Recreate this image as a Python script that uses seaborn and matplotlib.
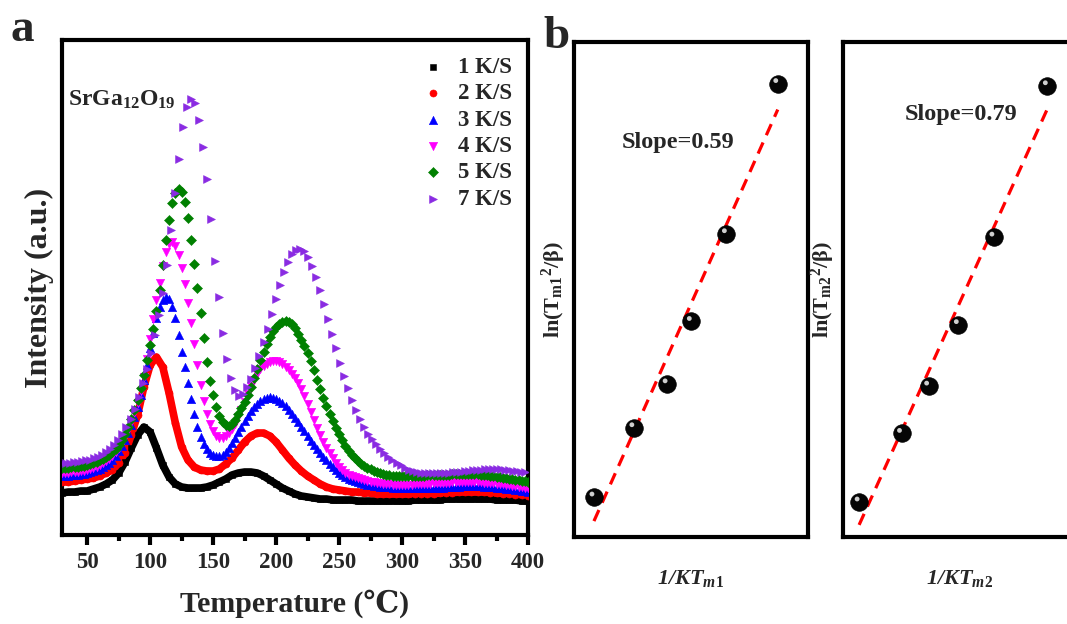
import numpy as np
import matplotlib
matplotlib.use("Agg")
import matplotlib.pyplot as plt
import matplotlib.transforms as mtransforms
import seaborn as sns

# ---------------- Panel a : TL glow curves (intensity, a.u.) ----------------
# 1 K/S and 2 K/S sampled every 5 degC starting at 30 degC
int_1ks = [42, 43, 43, 44, 44, 46, 48, 51, 55, 62,
           73, 87, 100, 108, 103, 87, 70, 58, 51, 48,
           47, 47, 47, 48, 50, 53, 56, 60, 62, 63,
           63, 62, 59, 55, 51, 47, 44, 41, 39, 38,
           37, 36, 36, 35, 35, 35, 35, 34, 34, 34,
           34, 34, 34, 34, 34, 34, 35, 35, 35, 35,
           35, 36, 36, 36, 36, 36, 36, 36, 36, 35,
           35, 35, 35, 34, 34]
int_2ks = [53, 53, 54, 55, 56, 57, 59, 62, 65, 72,
           82, 100, 120, 148, 170, 178, 168, 142, 112, 88,
           75, 68, 65, 64, 64, 66, 71, 77, 85, 93,
           99, 102, 102, 99, 93, 85, 77, 70, 64, 59,
           55, 51, 48, 46, 45, 44, 43, 43, 42, 42,
           41, 41, 41, 41, 41, 41, 41, 41, 41, 41,
           42, 42, 42, 43, 43, 43, 43, 43, 42, 42,
           41, 41, 40, 40, 39]
# 3, 4, 5 K/S sampled every 2.5 degC starting at 30 degC
int_3ks = [59, 59, 59, 60, 60, 60, 61, 61, 62, 63,
           64, 65, 66, 68, 70, 72, 75, 79, 84, 89,
           95, 102, 110, 118, 128, 140, 155, 170, 187, 202,
           217, 228, 235, 238, 236, 228, 217, 200, 183, 168,
           152, 136, 121, 108, 98, 91, 86, 82, 80, 79,
           79, 80, 83, 87, 92, 97, 103, 108, 114, 119,
           124, 128, 131, 134, 136, 137, 138, 137, 136, 134,
           132, 129, 125, 121, 117, 113, 108, 104, 99, 94,
           90, 86, 82, 78, 75, 71, 68, 65, 62, 60,
           58, 56, 55, 54, 53, 52, 51, 50, 50, 49,
           49, 48, 48, 48, 48, 47, 47, 47, 47, 47,
           47, 47, 47, 47, 47, 47, 47, 47, 47, 47,
           47, 47, 48, 48, 48, 48, 48, 49, 49, 49,
           49, 49, 49, 49, 48, 48, 48, 48, 47, 47,
           47, 46, 46, 46, 45, 45, 44, 44, 43]
int_4ks = [62, 62, 62, 63, 63, 63, 64, 64, 65, 66,
           67, 68, 70, 72, 74, 76, 79, 83, 87, 92,
           98, 105, 113, 122, 132, 144, 158, 176, 196, 216,
           235, 252, 269, 283, 291, 293, 289, 280, 267, 251,
           232, 212, 191, 170, 150, 134, 121, 111, 104, 99,
           97, 97, 99, 102, 106, 111, 118, 125, 133, 141,
           149, 155, 161, 166, 169, 171, 173, 174, 174, 173,
           171, 168, 165, 161, 157, 152, 146, 139, 131, 123,
           115, 107, 100, 93, 87, 82, 77, 72, 68, 65,
           62, 60, 59, 58, 57, 56, 55, 54, 53, 53,
           52, 52, 51, 51, 51, 50, 50, 50, 50, 50,
           50, 50, 51, 51, 51, 51, 51, 51, 52, 52,
           52, 52, 52, 52, 53, 53, 53, 53, 53, 53,
           53, 53, 53, 53, 52, 52, 52, 52, 51, 51,
           51, 50, 50, 49, 49, 48, 48, 47, 47]
int_5ks = [67, 67, 67, 68, 68, 68, 69, 69, 70, 71,
           72, 73, 75, 76, 78, 80, 83, 86, 90, 95,
           101, 108, 116, 125, 135, 147, 160, 175, 190, 206,
           224, 245, 270, 295, 315, 332, 342, 346, 343, 333,
           317, 295, 271, 247, 222, 197, 173, 154, 140, 128,
           119, 113, 110, 109, 111, 115, 121, 127, 133, 140,
           148, 157, 166, 175, 183, 191, 198, 204, 208, 211,
           213, 214, 213, 211, 207, 201, 195, 189, 182, 174,
           165, 155, 146, 137, 129, 121, 114, 107, 101, 95,
           89, 84, 80, 77, 74, 71, 69, 67, 66, 64,
           63, 62, 61, 60, 60, 59, 59, 59, 59, 59,
           59, 59, 59, 59, 59, 59, 60, 60, 60, 60,
           60, 60, 60, 60, 61, 61, 61, 61, 61, 61,
           61, 61, 61, 60, 60, 60, 59, 59, 58, 58,
           57, 57, 56, 56, 55, 55, 54, 54, 53]
# 7 K/S sampled every 3.2 degC starting at 30 degC
int_7ks = [72, 72, 72, 73, 73, 74, 75, 75, 77, 78,
           80, 83, 86, 90, 95, 101, 108, 116, 126, 138,
           152, 166, 182, 200, 220, 242, 270, 305, 342, 376,
           408, 428, 436, 432, 415, 388, 356, 316, 274, 238,
           202, 176, 157, 145, 139, 141, 148, 156, 167, 179,
           193, 206, 221, 236, 250, 263, 273, 281, 285, 286,
           284, 278, 269, 258, 245, 231, 216, 201, 187, 172,
           159, 147, 135, 125, 116, 108, 101, 96, 91, 86,
           82, 78, 75, 72, 70, 67, 65, 64, 63, 62,
           62, 62, 62, 62, 62, 62, 62, 63, 63, 63,
           64, 64, 65, 65, 65, 66, 66, 66, 66, 66,
           65, 65, 64, 64, 63, 63]

rate_labels = ["1 K/S", "2 K/S", "3 K/S", "4 K/S", "5 K/S", "7 K/S"]
temp_start = 30.0
temp_steps = [5.0, 5.0, 2.5, 2.5, 2.5, 3.2]
x_ticks = [50, 100, 150, 200, 250, 300, 350, 400]

# ---------------- Panel b : Hoogenstraaten plots ----------------
inv_kT_m1 = [28.58, 29.24, 29.79, 30.19, 30.77, 31.62]
ln_T_m1 = [10.06, 10.36, 10.55, 10.82, 11.20, 11.85]
inv_kT_m2 = [23.68, 24.18, 24.50, 24.85, 25.27, 25.90]
ln_T_m2 = [10.44, 10.73, 10.93, 11.19, 11.56, 12.20]
slope_texts = ["Slope=0.59", "Slope=0.79"]

# ---------------- style ----------------
sns.set_theme(style="white")
plt.rcParams["font.family"] = ["Liberation Serif", "DejaVu Serif"]
plt.rcParams["font.weight"] = "bold"
plt.rcParams["axes.labelweight"] = "bold"
plt.rcParams["mathtext.fontset"] = "custom"
plt.rcParams["mathtext.rm"] = "Liberation Serif:bold"
plt.rcParams["mathtext.bf"] = "Liberation Serif:bold"
plt.rcParams["mathtext.it"] = "Liberation Serif:italic:bold"

W, H = 1067, 624
fig = plt.figure(figsize=(W / 100, H / 100), dpi=100)


def px_axes(l, t, r, b):
    return fig.add_axes([l / W, 1 - b / H, (r - l) / W, (b - t) / H])


def frame(ax):
    for sp in ax.spines.values():
        sp.set_visible(True)
        sp.set_color("black")
        sp.set_linewidth(3)


# ---------------- panel a ----------------
axA = px_axes(62, 40, 528, 535)
all_ints = [int_1ks, int_2ks, int_3ks, int_4ks, int_5ks, int_7ks]
markers = ["s", "o", "^", "v", "D", ">"]
colors = ["#000000", "#ff0000", "#0000ff", "#ff00ff", "#008000", "#8a2be2"]
sizes = [22, 26, 36, 36, 26, 32]
as_line = [True, True, False, False, False, False]

for lab, vals, step, mk, col, sz, ln in zip(rate_labels, all_ints, temp_steps,
                                             markers, colors, sizes, as_line):
    temps = temp_start + step * np.arange(len(vals))
    vals = np.asarray(vals, dtype=float)
    if ln:
        sns.lineplot(x=temps, y=vals, ax=axA, color=col, linewidth=5.5,
                     legend=False, zorder=2, sort=False)
    sns.scatterplot(x=temps, y=vals, ax=axA, marker=mk, color=col, s=sz,
                    edgecolor=col, linewidth=0.4, label=lab, zorder=3)

axA.set_xlim(30, 400)
axA.set_ylim(0, 495)
axA.set_xticks(x_ticks)
axA.set_xticks(np.arange(75, 400, 50), minor=True)
axA.set_yticks([])
axA.tick_params(axis="x", which="major", bottom=True, direction="out",
                length=7, width=3, color="black", labelsize=16.5, pad=5)
axA.tick_params(axis="x", which="minor", bottom=True, direction="out",
                length=4, width=3, color="black")
for t in axA.get_xticklabels():
    t.set_fontweight("bold")
frame(axA)
axA.set_xlabel("Temperature (\u2103)", fontsize=21.5, labelpad=12)
axA.set_ylabel("Intensity (a.u.)", fontsize=23, labelpad=6)
axA.legend(loc="upper right", bbox_to_anchor=(0.985, 0.984), frameon=False,
           handlelength=1.0, handletextpad=0.6, labelspacing=0.23,
           borderaxespad=0, prop={"weight": "bold", "size": 16.5})
axA.text(0.012, 0.879, r"$\mathbf{SrGa_{12}O_{19}}$", transform=axA.transAxes,
         fontsize=17, ha="left", va="center")

# ---------------- panel b ----------------
axB1 = px_axes(574, 42, 808, 537)
axB2 = px_axes(843, 42, 1077, 537)
hl_offset = mtransforms.ScaledTranslation(-2 / 100, 3 / 100, fig.dpi_scale_trans)

specs = [
    (axB1, inv_kT_m1, ln_T_m1, (28.25, 32.12), (9.887, 12.03),
     r"$\mathbf{ln(T_{m1}{}^{2}/\beta)}$", r"1/KT$_{m1}$",
     slope_texts[0], (0.444, 0.796)),
    (axB2, inv_kT_m2, ln_T_m2, (23.49, 26.25), (10.292, 12.385),
     r"$\mathbf{ln(T_{m2}{}^{2}/\beta)}$", r"1/KT$_{m2}$",
     slope_texts[1], (0.504, 0.853)),
]
for ax, xs, ys, xl, yl, ylab, xlab, stxt, spos in specs:
    xs = np.asarray(xs)
    ys = np.asarray(ys)
    coef = np.polyfit(xs, ys, 1)
    xf = np.array([xs.min(), xs.max()])
    sns.lineplot(x=xf, y=np.polyval(coef, xf), ax=ax, color="#ff0000",
                 linewidth=2.3, zorder=2)
    ax.lines[-1].set_dashes([3.8, 2.5])
    sns.scatterplot(x=xs, y=ys, ax=ax, color="#050505", s=160,
                    edgecolor="#000000", linewidth=0.5, zorder=3)
    sns.scatterplot(x=xs, y=ys, ax=ax, color="#cfcfcf", s=12,
                    edgecolor="none", linewidth=0, zorder=4,
                    transform=ax.transData + hl_offset)
    ax.set_xlim(*xl)
    ax.set_ylim(*yl)
    ax.set_xticks([])
    ax.set_yticks([])
    frame(ax)
    ax.set_ylabel(ylab, fontsize=16, labelpad=4)
    ax.set_xlabel(xlab, fontsize=16, labelpad=22, fontstyle="italic")
    ax.text(spos[0], spos[1], stxt, transform=ax.transAxes, fontsize=17.5,
            ha="center", va="center", fontweight="bold")

fig.text(22 / W, 1 - 30 / H, "a", fontsize=34, fontweight="bold",
         ha="center", va="center")
fig.text(556 / W, 1 - 37 / H, "b", fontsize=34, fontweight="bold",
         ha="center", va="center")

fig.savefig("out.png", dpi=100)
